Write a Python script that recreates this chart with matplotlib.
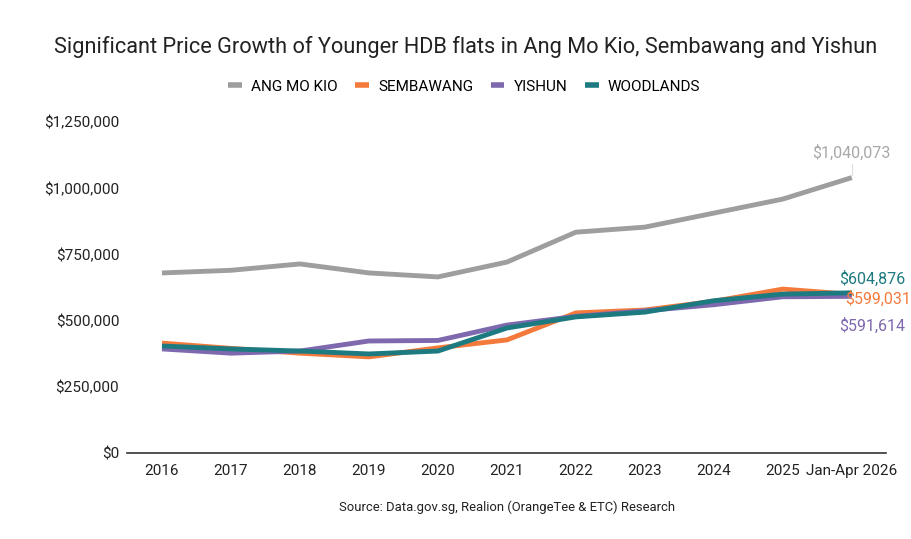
import matplotlib.pyplot as plt
from matplotlib.ticker import FuncFormatter

plt.rcParams['font.family'] = ['Roboto', 'DejaVu Sans']

years = ['2016', '2017', '2018', '2019', '2020', '2021', '2022', '2023', '2024', '2025', 'Jan-Apr 2026']
ang_mo_kio = [680000, 690000, 714000, 680000, 665000, 721000, 834000, 853000, 906000, 959000, 1040073]
sembawang = [415000, 395000, 377000, 363000, 397000, 427000, 529000, 540000, 573000, 619000, 599031]
yishun = [393000, 377000, 385000, 423000, 425000, 483000, 516000, 537000, 560000, 590000, 591614]
woodlands = [404000, 393000, 385000, 374000, 385000, 472000, 514000, 532000, 575000, 600000, 604876]

series = [('ANG MO KIO', ang_mo_kio, '#9e9e9e'),
          ('SEMBAWANG', sembawang, '#f47a3c'),
          ('YISHUN', yishun, '#7e68ae'),
          ('WOODLANDS', woodlands, '#1d7a80')]

fig = plt.figure(figsize=(9.12, 5.39), dpi=100)
ax = fig.add_axes([0.1398, 0.1596, 0.832, 0.614])

x = list(range(len(years)))
for name, vals, col in series:
    ax.plot(x, vals, color=col, lw=3.5, label=name, solid_capstyle='butt')

ax.set_xlim(-0.5, len(years) - 0.5)
ax.set_ylim(0, 1250000)
ax.set_yticks([0, 250000, 500000, 750000, 1000000, 1250000])
ax.yaxis.set_major_formatter(FuncFormatter(lambda v, p: '${:,.0f}'.format(v)))
ax.set_xticks(x)
ax.set_xticklabels(years)
ax.tick_params(axis='both', length=0, labelsize=11, colors='#222222')
ax.tick_params(axis='x', pad=8)
ax.tick_params(axis='y', pad=6)
for s in ['top', 'right', 'left']:
    ax.spines[s].set_visible(False)
ax.spines['bottom'].set_color('#333333')
ax.spines['bottom'].set_linewidth(1.2)

# end labels
last = len(years) - 1
ax.plot([last, last], [ang_mo_kio[-1] + 10000, ang_mo_kio[-1] + 50000], color='#dddddd', lw=0.8)
ax.annotate('${:,}'.format(ang_mo_kio[-1]), (last, ang_mo_kio[-1]), xytext=(0, 12),
            textcoords='offset points', ha='center', va='bottom', color='#a8a8a8', fontsize=11.5)
ax.annotate('${:,}'.format(woodlands[-1]), (last, woodlands[-1]), xytext=(-9, 10),
            textcoords='offset points', ha='left', va='center', color='#1d7a80', fontsize=11.5)
ax.annotate('${:,}'.format(sembawang[-1]), (last, sembawang[-1]), xytext=(-5, -3),
            textcoords='offset points', ha='left', va='center', color='#f47a3c', fontsize=11.5)
ax.annotate('${:,}'.format(yishun[-1]), (last, yishun[-1]), xytext=(-9, -21),
            textcoords='offset points', ha='left', va='center', color='#7e68ae', fontsize=11.5)

fig.text(0.511, 0.913, 'Significant Price Growth of Younger HDB flats in Ang Mo Kio, Sembawang and Yishun',
         ha='center', va='center', fontsize=15.7, color='#222222')
leg = fig.legend(loc='center', bbox_to_anchor=(0.509, 0.839), ncol=4, frameon=False, fontsize=11,
                 handlelength=0.9, handletextpad=0.6, columnspacing=1.15)
for h in leg.get_lines():
    h.set_linewidth(4)
fig.text(0.556, 0.059, 'Source: Data.gov.sg, Realion (OrangeTee & ETC) Research',
         ha='center', va='center', fontsize=9.4, color='#222222')

fig.savefig('out.png', dpi=100, facecolor='white')
